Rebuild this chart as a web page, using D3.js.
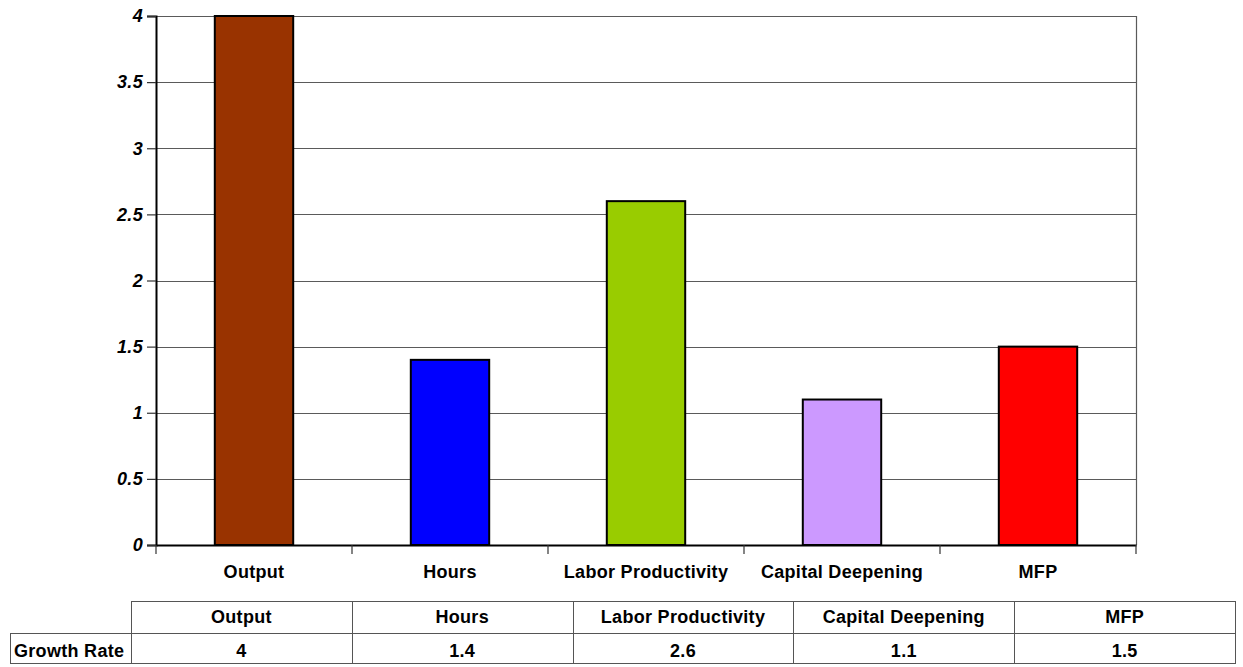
<!DOCTYPE html>
<html>
<head>
<meta charset="utf-8">
<script src="https://cdn.jsdelivr.net/npm/d3@7"></script>
<style>
  html, body { margin: 0; padding: 0; background: #fff; }
  svg { display: block; }
  text { font-family: "Liberation Sans", Arial, sans-serif; font-weight: bold; }
</style>
</head>
<body>
<svg id="chart" width="1243" height="667"></svg>
<script>
const categories = ["Output", "Hours", "Labor Productivity", "Capital Deepening", "MFP"];
const values = [4, 1.4, 2.6, 1.1, 1.5];
const colors = ["#993300", "#0000FF", "#99CC00", "#CC99FF", "#FF0000"];
const yTicks = [0, 0.5, 1, 1.5, 2, 2.5, 3, 3.5, 4];
const rowLabel = "Growth Rate";

const svg = d3.select("#chart");
const W = 1243, H = 667;
const plot = { left: 156, right: 1136, top: 16, bottom: 545 };
const FS = 18, LS = 0.3;

svg.append("rect").attr("width", W).attr("height", H).attr("fill", "#fff");

const x = d3.scaleBand().domain(categories).range([plot.left, plot.right]).padding(0);
const y = d3.scaleLinear().domain([0, 4]).range([plot.bottom, plot.top]);

// gridlines
svg.append("g").selectAll("line").data(yTicks.filter(d => d > 0)).join("line")
  .attr("x1", plot.left).attr("x2", plot.right)
  .attr("y1", d => Math.round(y(d)) + 0.5).attr("y2", d => Math.round(y(d)) + 0.5)
  .attr("stroke", "#5a5a5a").attr("stroke-width", 1.2);

// right border
svg.append("line")
  .attr("x1", plot.right + 0.5).attr("x2", plot.right + 0.5)
  .attr("y1", plot.top).attr("y2", plot.bottom)
  .attr("stroke", "#5a5a5a").attr("stroke-width", 1.2);

// bars
const bw = x.bandwidth() * 0.4;
svg.append("g").selectAll("rect").data(categories).join("rect")
  .attr("x", d => x(d) + (x.bandwidth() - bw) / 2)
  .attr("width", bw)
  .attr("y", (d, i) => y(values[i]))
  .attr("height", (d, i) => y(0) - y(values[i]))
  .attr("fill", (d, i) => colors[i])
  .attr("stroke", "#000").attr("stroke-width", 2);

// y axis
const yAxis = svg.append("g").attr("transform", `translate(${plot.left},0)`)
  .call(d3.axisLeft(y).tickValues(yTicks).tickSize(9).tickPadding(4).tickFormat(d => String(d)));
yAxis.select(".domain").attr("stroke", "#000").attr("stroke-width", 2);
yAxis.selectAll(".tick line").attr("stroke", "#333").attr("stroke-width", 1.2);
yAxis.selectAll(".tick text")
  .attr("font-size", FS).attr("font-style", "italic").attr("letter-spacing", LS)
  .attr("fill", "#000").attr("font-weight", "bold")
  .attr("font-family", "Liberation Sans, Arial, sans-serif");

// x axis
const xAxis = svg.append("g").attr("transform", `translate(0,${plot.bottom})`)
  .call(d3.axisBottom(x).tickSize(0).tickFormat(""));
xAxis.select(".domain").attr("stroke", "#000").attr("stroke-width", 2);
xAxis.selectAll(".tick").remove();
const bounds = categories.map(c => x(c)).concat([plot.right]);
svg.append("g").selectAll("line").data(bounds).join("line")
  .attr("x1", d => d).attr("x2", d => d)
  .attr("y1", plot.bottom).attr("y2", plot.bottom + 9)
  .attr("stroke", "#333").attr("stroke-width", 1.2);

svg.append("g").selectAll("text").data(categories).join("text")
  .attr("x", d => x(d) + x.bandwidth() / 2)
  .attr("y", 578)
  .attr("text-anchor", "middle")
  .attr("font-size", FS).attr("letter-spacing", LS)
  .text(d => d);

// data table
const tx = d3.scaleBand().domain(categories).range([131, 1235]).padding(0);
const rows = { top: 601, mid: 633, bottom: 663 };
const tg = svg.append("g");
const lineColor = "#555";
tg.append("line").attr("x1", 131).attr("x2", 1235).attr("y1", rows.top + 0.5).attr("y2", rows.top + 0.5).attr("stroke", lineColor);
tg.append("line").attr("x1", 10).attr("x2", 1235).attr("y1", rows.mid + 0.5).attr("y2", rows.mid + 0.5).attr("stroke", lineColor);
tg.append("line").attr("x1", 10).attr("x2", 1235).attr("y1", rows.bottom + 0.5).attr("y2", rows.bottom + 0.5).attr("stroke", lineColor);
tg.append("line").attr("x1", 10.5).attr("x2", 10.5).attr("y1", rows.mid).attr("y2", rows.bottom + 1).attr("stroke", lineColor);
const tBounds = categories.map(c => tx(c)).concat([1235]);
tg.selectAll("line.v").data(tBounds).join("line").attr("class", "v")
  .attr("x1", d => Math.round(d) + 0.5).attr("x2", d => Math.round(d) + 0.5)
  .attr("y1", rows.top).attr("y2", rows.bottom + 1)
  .attr("stroke", lineColor);
tg.selectAll("text.h").data(categories).join("text").attr("class", "h")
  .attr("x", d => tx(d) + tx.bandwidth() / 2)
  .attr("y", 623)
  .attr("text-anchor", "middle")
  .attr("font-size", FS).attr("letter-spacing", LS)
  .text(d => d);
tg.selectAll("text.v").data(values).join("text").attr("class", "v")
  .attr("x", (d, i) => tx(categories[i]) + tx.bandwidth() / 2)
  .attr("y", 657)
  .attr("text-anchor", "middle")
  .attr("font-size", FS).attr("letter-spacing", LS)
  .text(d => String(d));
tg.append("text").attr("x", 14).attr("y", 657)
  .attr("font-size", FS).attr("letter-spacing", LS)
  .text(rowLabel);
</script>
</body>
</html>
